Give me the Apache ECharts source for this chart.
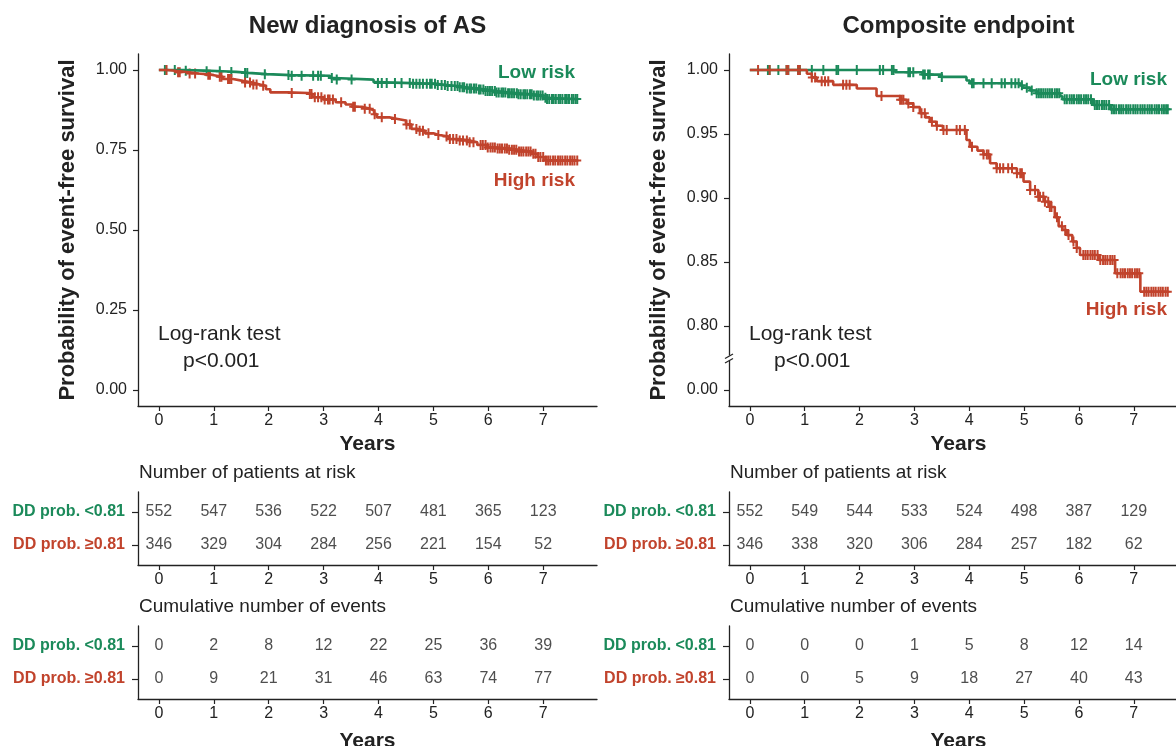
<!DOCTYPE html>
<html>
<head>
<meta charset="utf-8">
<script src="https://cdn.jsdelivr.net/npm/echarts@6/dist/echarts.min.js"></script>
<style>
  html, body { margin: 0; padding: 0; background: #ffffff; }
  #chart { width: 1176px; height: 746px; }
</style>
</head>
<body>
<div id="chart"></div>
<script>
// ---- colours & fonts ----
const GREEN = '#1b8a5a';
const RED = '#c1432c';
const INK = '#222222';
const FONT = '"Liberation Sans", Arial, Helvetica, sans-serif';

// ---- shared axis values ----
const years = [0, 1, 2, 3, 4, 5, 6, 7];
const groupLow = 'DD prob. <0.81';
const groupHigh = 'DD prob. \u22650.81';

// ---- New diagnosis of AS: Kaplan-Meier steps [years, survival] ----
const asLowSteps = [[0,1],[0.45,0.998],[0.84,0.996],[1.16,0.994],[1.41,0.991],[1.63,0.987],[1.97,0.984],[2.4,0.982],[3.12,0.975],[3.2,0.970],[3.91,0.962],[3.97,0.959],[4.6,0.957],[5.05,0.953],[5.25,0.950],[5.45,0.946],[5.6,0.942],[5.8,0.939],[5.95,0.934],[6.15,0.930],[6.35,0.927],[6.55,0.924],[6.8,0.920],[7.0,0.913],[7.05,0.909],[7.63,0.909]];
const asHighSteps = [[0,1],[0.15,0.997],[0.34,0.993],[0.55,0.989],[0.72,0.985],[0.95,0.979],[1.16,0.972],[1.35,0.966],[1.53,0.961],[1.7,0.955],[1.84,0.951],[1.95,0.940],[2.03,0.930],[2.35,0.928],[2.72,0.925],[2.80,0.915],[3.0,0.908],[3.22,0.899],[3.4,0.892],[3.53,0.885],[3.7,0.879],[3.85,0.873],[3.92,0.862],[3.97,0.852],[4.2,0.847],[4.35,0.842],[4.5,0.830],[4.6,0.816],[4.7,0.810],[4.85,0.802],[5.0,0.797],[5.1,0.792],[5.28,0.784],[5.45,0.780],[5.66,0.774],[5.8,0.766],[5.97,0.758],[6.15,0.755],[6.35,0.751],[6.55,0.745],[6.79,0.738],[6.9,0.728],[7.04,0.717],[7.63,0.717]];
// censoring times (years)
const asLowCensor = [0.11,0.29,0.49,0.87,1.11,1.32,1.57,1.61,1.93,2.36,2.42,2.60,2.81,2.90,2.95,3.15,3.24,3.51,3.99,4.06,4.15,4.30,4.42,4.57,4.63,4.69,4.75,4.81,4.88,4.94,4.97,5.03,5.08,5.15,5.21,5.26,5.33,5.39,5.44,5.48,5.53,5.56,5.61,5.66,5.69,5.74,5.78,5.83,5.86,5.91,5.95,5.99,6.03,6.07,6.12,6.15,6.19,6.24,6.27,6.31,6.36,6.39,6.43,6.47,6.52,6.55,6.59,6.64,6.67,6.71,6.76,6.79,6.83,6.88,6.91,6.95,6.99,7.04,7.07,7.11,7.16,7.19,7.23,7.28,7.31,7.35,7.40,7.43,7.47,7.52,7.55,7.59,7.62];
const asHighCensor = [0.14,0.35,0.38,0.56,0.66,0.90,0.93,1.11,1.14,1.26,1.29,1.32,1.57,1.66,1.72,1.78,1.90,2.42,2.75,2.78,2.84,2.90,2.96,3.02,3.08,3.11,3.17,3.32,3.54,3.57,3.75,3.84,3.93,4.06,4.30,4.51,4.57,4.69,4.75,4.81,4.91,5.09,5.24,5.30,5.36,5.42,5.48,5.54,5.61,5.66,5.73,5.86,5.90,5.95,5.99,6.04,6.08,6.12,6.17,6.21,6.25,6.30,6.34,6.38,6.43,6.47,6.51,6.56,6.60,6.64,6.69,6.73,6.77,6.82,6.86,6.91,6.95,7.00,7.05,7.09,7.13,7.18,7.22,7.27,7.31,7.35,7.40,7.44,7.49,7.53,7.57,7.62];

// ---- Composite endpoint: Kaplan-Meier steps [years, survival] ----
const ceLowSteps = [[0,1],[2.65,0.9982],[3.15,0.9964],[3.50,0.9946],[3.95,0.9918],[4.01,0.9896],[4.92,0.9880],[4.97,0.9862],[5.11,0.9840],[5.23,0.9818],[5.66,0.9795],[5.70,0.9771],[6.26,0.9727],[6.57,0.9693],[7.63,0.9693]];
const ceHighSteps = [[0,1],[1.04,0.9971],[1.13,0.9942],[1.22,0.9913],[1.52,0.9884],[1.95,0.9855],[2.31,0.9797],[2.74,0.9768],[2.86,0.9739],[2.98,0.9710],[3.10,0.9662],[3.20,0.9630],[3.28,0.9596],[3.40,0.9565],[3.52,0.9531],[3.95,0.9453],[4.01,0.9400],[4.15,0.9370],[4.26,0.9340],[4.38,0.9271],[4.50,0.9232],[4.87,0.9193],[4.99,0.9128],[5.11,0.9063],[5.26,0.9010],[5.38,0.8970],[5.47,0.8930],[5.56,0.8850],[5.63,0.8780],[5.70,0.8750],[5.78,0.8710],[5.88,0.8660],[5.96,0.8610],[6.02,0.8555],[6.36,0.8516],[6.66,0.8412],[7.12,0.8268],[7.63,0.8268]];
const ceLowCensor = [0.33,0.36,0.52,0.67,0.70,0.88,0.91,1.13,1.34,1.58,1.61,1.95,2.37,2.43,2.59,2.62,2.89,2.92,2.98,3.16,3.19,3.25,3.28,3.50,4.05,4.08,4.26,4.41,4.59,4.65,4.77,4.84,4.90,4.96,5.05,5.14,5.23,5.27,5.31,5.35,5.39,5.43,5.47,5.51,5.56,5.60,5.64,5.74,5.78,5.83,5.87,5.91,5.96,6.00,6.04,6.09,6.13,6.17,6.22,6.29,6.33,6.37,6.42,6.46,6.50,6.55,6.60,6.64,6.68,6.73,6.77,6.81,6.86,6.90,6.94,6.99,7.03,7.07,7.12,7.16,7.20,7.25,7.29,7.33,7.38,7.42,7.46,7.51,7.55,7.59,7.62];
const ceHighCensor = [0.15,0.36,0.67,0.70,0.88,0.91,1.13,1.19,1.31,1.37,1.43,1.70,1.76,1.82,2.40,2.74,2.77,2.80,2.89,2.98,3.13,3.19,3.32,3.41,3.53,3.59,3.77,3.83,3.92,4.05,4.26,4.32,4.35,4.50,4.56,4.62,4.71,4.78,4.87,4.93,4.96,5.11,5.20,5.26,5.29,5.35,5.38,5.44,5.47,5.50,5.60,5.69,5.75,5.81,5.90,5.96,6.08,6.12,6.16,6.21,6.25,6.29,6.34,6.39,6.44,6.48,6.52,6.57,6.61,6.65,6.70,6.76,6.80,6.84,6.89,6.93,6.97,7.02,7.06,7.10,7.19,7.23,7.27,7.32,7.36,7.40,7.45,7.49,7.53,7.58,7.62];

// ---- tables: number at risk & cumulative events per year ----
const asRiskLow = [552, 547, 536, 522, 507, 481, 365, 123];
const asRiskHigh = [346, 329, 304, 284, 256, 221, 154, 52];
const asEventsLow = [0, 2, 8, 12, 22, 25, 36, 39];
const asEventsHigh = [0, 9, 21, 31, 46, 63, 74, 77];
const ceRiskLow = [552, 549, 544, 533, 524, 498, 387, 129];
const ceRiskHigh = [346, 338, 320, 306, 284, 257, 182, 62];
const ceEventsLow = [0, 0, 0, 1, 5, 8, 12, 14];
const ceEventsHigh = [0, 0, 5, 9, 18, 27, 40, 43];

// survival value of a step curve at time t
function survivalAt(steps, t) {
  let s = steps[0][1];
  for (const [x, v] of steps) { if (x <= t) s = v; else break; }
  return s;
}

const CROSS = 'path://M3,0H5V4H8V6H5V10H3V6H0V4H3Z';
const X_MIN = -0.38;
// left column spans the full padded range; the right column runs to the page edge
const X_MAX = [7.98, 7.77];

const chart = echarts.init(document.getElementById('chart'), null, { renderer: 'canvas' });

// layout of the six panels (column 0 = left, column 1 = right)
const colLeft = [138, 729];
const colWidth = [459, 447];
const colCenter = [367.5, 958.5];
const panelCol = [0, 1, 0, 1, 0, 1];
const panelTop = [54, 54, 492, 492, 626, 626];
const panelHeight = [352, 352, 73, 73, 73, 73];
const grids = panelCol.map((c, i) => ({ left: colLeft[c], top: panelTop[i], width: colWidth[c], height: panelHeight[i] }));

const axisLineStyle = { show: true, onZero: false, lineStyle: { color: INK, width: 1.3 } };
const tickStyle = { show: true, length: 5, lineStyle: { color: INK, width: 1.2 } };

const xAxes = grids.map((g, i) => ({
  type: 'value', gridIndex: i, min: X_MIN, max: X_MAX[panelCol[i]],
  axisLine: axisLineStyle,
  axisTick: Object.assign({ customValues: years }, tickStyle),
  axisLabel: { customValues: years, color: INK, fontSize: 16, fontFamily: FONT, margin: 7, formatter: v => String(v) },
  splitLine: { show: false }
}));

const kmLabelBase = { color: INK, fontSize: 16, fontFamily: FONT, margin: 11 };
const yAxes = [
  {
    type: 'value', gridIndex: 0, min: -0.05, max: 1.05,
    axisLine: axisLineStyle,
    axisTick: Object.assign({ customValues: [0, 0.25, 0.5, 0.75, 1] }, tickStyle),
    axisLabel: Object.assign({ customValues: [0, 0.25, 0.5, 0.75, 1], formatter: v => v.toFixed(2) }, kmLabelBase),
    splitLine: { show: false }
  },
  {
    // broken scale: 0.80–1.00 with the zero tick placed just below the break
    type: 'value', gridIndex: 1, min: 0.7375, max: 1.0125,
    axisLine: axisLineStyle,
    axisTick: Object.assign({ customValues: [0.75, 0.8, 0.85, 0.9, 0.95, 1] }, tickStyle),
    axisLabel: Object.assign({ customValues: [0.75, 0.8, 0.85, 0.9, 0.95, 1], formatter: v => (v < 0.76 ? '0.00' : v.toFixed(2)) }, kmLabelBase),
    splitLine: { show: false }
  }
];
for (let i = 2; i < 6; i++) {
  yAxes.push({
    type: 'value', gridIndex: i, min: 0.4, max: 2.6,
    axisLine: axisLineStyle,
    axisTick: Object.assign({ customValues: [1, 2] }, tickStyle, { length: 6 }),
    axisLabel: {
      customValues: [1, 2], margin: 13, fontFamily: FONT,
      formatter: v => (v > 1.5 ? '{g|' + groupLow + '}' : '{r|' + groupHigh + '}'),
      rich: {
        g: { color: GREEN, fontWeight: 'bold', fontSize: 16, fontFamily: FONT },
        r: { color: RED, fontWeight: 'bold', fontSize: 16, fontFamily: FONT }
      }
    },
    splitLine: { show: false }
  });
}

function kmLine(steps, color, idx) {
  return {
    type: 'line', xAxisIndex: idx, yAxisIndex: idx, step: 'end',
    data: steps, showSymbol: false, symbol: 'none',
    lineStyle: { color: color, width: 2.6 }, silent: true
  };
}
function kmCensor(steps, times, color, idx) {
  return {
    type: 'scatter', xAxisIndex: idx, yAxisIndex: idx,
    data: times.map(t => [t, survivalAt(steps, t)]),
    symbol: CROSS, symbolSize: [8, 10],
    itemStyle: { color: color, opacity: 1 }, silent: true
  };
}
function tableRow(values, row, idx) {
  return {
    type: 'scatter', xAxisIndex: idx, yAxisIndex: idx,
    data: years.map((y, i) => [y, row, values[i]]),
    symbol: 'circle', symbolSize: 1,
    itemStyle: { color: 'rgba(0,0,0,0)' },
    label: {
      show: true, position: 'inside', color: INK, fontSize: 16, fontFamily: FONT,
      formatter: p => String(p.value[2])
    },
    silent: true
  };
}

const series = [
  kmLine(asLowSteps, GREEN, 0), kmCensor(asLowSteps, asLowCensor, GREEN, 0),
  kmLine(asHighSteps, RED, 0), kmCensor(asHighSteps, asHighCensor, RED, 0),
  kmLine(ceLowSteps, GREEN, 1), kmCensor(ceLowSteps, ceLowCensor, GREEN, 1),
  kmLine(ceHighSteps, RED, 1), kmCensor(ceHighSteps, ceHighCensor, RED, 1),
  tableRow(asRiskLow, 2, 2), tableRow(asRiskHigh, 1, 2),
  tableRow(ceRiskLow, 2, 3), tableRow(ceRiskHigh, 1, 3),
  tableRow(asEventsLow, 2, 4), tableRow(asEventsHigh, 1, 4),
  tableRow(ceEventsLow, 2, 5), tableRow(ceEventsHigh, 1, 5)
];

chart.setOption({
  animation: false,
  backgroundColor: '#ffffff',
  grid: grids,
  xAxis: xAxes,
  yAxis: yAxes,
  series: series
});

// ---- annotations ----
function txt(text, x, y, opts) {
  const o = Object.assign({ size: 16, weight: 'normal', color: INK, align: 'left', rotate: 0 }, opts || {});
  return {
    type: 'text', x: x, y: y, rotation: o.rotate, z: 50, silent: true,
    style: {
      text: text, fill: o.color, textAlign: o.align, textVerticalAlign: 'middle',
      font: o.weight + ' ' + o.size + 'px ' + FONT
    }
  };
}

const graphics = [];
const panelTitles = ['New diagnosis of AS', 'Composite endpoint'];
[0, 1].forEach(c => {
  const cx = colCenter[c];
  graphics.push(txt(panelTitles[c], cx, 26, { size: 24, weight: 'bold', align: 'center' }));
  graphics.push(txt('Probability of event-free survival', colLeft[c] - 70, 230, { size: 22, weight: 'bold', align: 'center', rotate: Math.PI / 2 }));
  graphics.push(txt('Years', cx, 444, { size: 21, weight: 'bold', align: 'center' }));
  graphics.push(txt('Log-rank test', colLeft[c] + 20, 334, { size: 21 }));
  graphics.push(txt('p<0.001', colLeft[c] + 45, 361, { size: 21 }));
  graphics.push(txt('Number of patients at risk', colLeft[c] + 1, 473, { size: 19 }));
  graphics.push(txt('Cumulative number of events', colLeft[c] + 1, 607, { size: 19 }));
  graphics.push(txt('Years', cx, 741, { size: 21, weight: 'bold', align: 'center' }));
});
graphics.push(txt('Low risk', 575, 73, { size: 19, weight: 'bold', color: GREEN, align: 'right' }));
graphics.push(txt('High risk', 575, 181, { size: 19, weight: 'bold', color: RED, align: 'right' }));
graphics.push(txt('Low risk', 1167, 80, { size: 19, weight: 'bold', color: GREEN, align: 'right' }));
graphics.push(txt('High risk', 1167, 310, { size: 19, weight: 'bold', color: RED, align: 'right' }));

// axis break mark on the composite-endpoint survival axis
const brk = chart.convertToPixel({ xAxisIndex: 1, yAxisIndex: 1 }, [X_MIN, 0.775]);
const bx = brk[0], by = brk[1];
graphics.push({ type: 'rect', z: 60, silent: true, shape: { x: bx - 3, y: by - 2.5, width: 6, height: 5 }, style: { fill: '#ffffff' } });
graphics.push({ type: 'line', z: 61, silent: true, shape: { x1: bx - 4, y1: by + 0.5, x2: bx + 4, y2: by - 4 }, style: { stroke: INK, lineWidth: 1.2 } });
graphics.push({ type: 'line', z: 61, silent: true, shape: { x1: bx - 4, y1: by + 5, x2: bx + 4, y2: by + 0.5 }, style: { stroke: INK, lineWidth: 1.2 } });

chart.setOption({ graphic: graphics });
</script>
</body>
</html>
